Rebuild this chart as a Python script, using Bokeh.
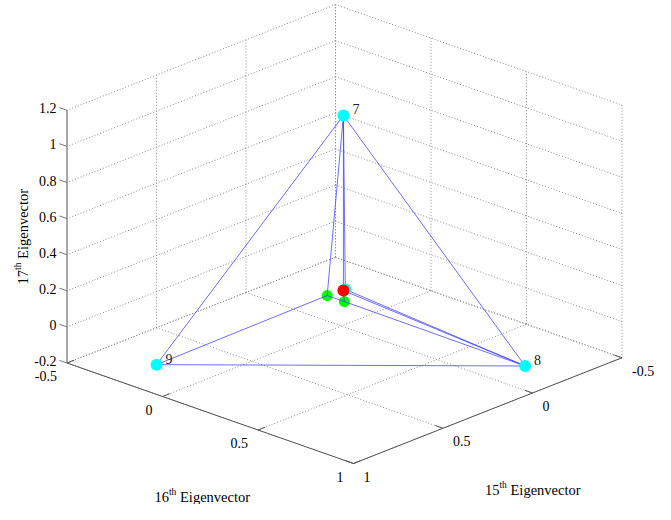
import numpy as np
from bokeh.plotting import figure
from bokeh.models import Range1d
from bokeh.embed import file_html
from bokeh.resources import INLINE
from bokeh.core.properties import value

# ---------------- data ----------------
# node coordinates on the 16th / 15th / 17th eigenvectors
node_names = ["7", "8", "9", "c", "r", "g1", "g2"]
node_labels = ["7", "8", "9", "", "", "", ""]
node_e16 = [0.01, 0.98, -0.05, 0.02, 0.01, 0.00, 0.09]
node_e15 = [0.00, 0.02, 0.98, 0.00, 0.00, 0.08, 0.08]
node_e17 = [0.97, -0.05, -0.05, 0.01, 0.00, 0.00, 0.00]
node_colors = ["#00ffff", "#00ffff", "#00ffff", "#00ffff", "#ff0000", "#00ff00", "#00ff00"]

edge_from = ["7", "7", "8", "7", "7", "7", "9", "g1", "g2", "r", "c", "g2"]
edge_to = ["8", "9", "9", "r", "c", "g1", "g1", "g2", "r", "8", "8", "8"]

e16_ticks = [-0.5, 0, 0.5, 1]
e16_tick_labels = ["-0.5", "0", "0.5", "1"]
e15_ticks = [-0.5, 0, 0.5, 1]
e15_tick_labels = ["-0.5", "0", "0.5", "1"]
e17_ticks = [-0.2, 0, 0.2, 0.4, 0.6, 0.8, 1.0, 1.2]
e17_tick_labels = ["-0.2", "0", "0.2", "0.4", "0.6", "0.8", "1", "1.2"]
e16_lim = [-0.5, 1.0]
e15_lim = [-0.5, 1.0]
e17_lim = [-0.2, 1.2]

# ---------------- view (projection of 3D axes onto the page) ----------------
ORIGIN = (353.0, 463.0)      # where (e16 max, e15 max, e17 min) lands
VA = (191.0, 67.0)           # one unit of e16
VB = (-179.0, 70.5)          # one unit of e15
VC = (0.0, -180.5)           # one unit of e17


def proj(a, b, c):
    a = np.asarray(a, float) - e16_lim[1]
    b = np.asarray(b, float) - e15_lim[1]
    c = np.asarray(c, float) - e17_lim[0]
    x = ORIGIN[0] + a * VA[0] + b * VB[0] + c * VC[0]
    y = ORIGIN[1] + a * VA[1] + b * VB[1] + c * VC[1]
    return x, y


FONT = value("Liberation Serif")

p = figure(width=655, height=504, output_backend="svg", toolbar_location=None,
           x_range=Range1d(0, 655), y_range=Range1d(504, 0),
           x_axis_location=None, y_axis_location=None, min_border=0)
p.grid.visible = False
p.outline_line_color = None
p.background_fill_color = "white"
p.border_fill_color = "white"

A0, A1 = e16_lim
B0, B1 = e15_lim
C0, C1 = e17_lim

# ---------------- grid ----------------
gx, gy = [], []


def seg(p0, p1, xs, ys):
    x0, y0 = proj(*p0)
    x1, y1 = proj(*p1)
    xs.append([float(x0), float(x1)])
    ys.append([float(y0), float(y1)])


for z in e17_ticks:
    seg((A0, B0, z), (A0, B1, z), gx, gy)
    seg((A0, B0, z), (A1, B0, z), gx, gy)
for b in e15_ticks:
    seg((A0, b, C0), (A0, b, C1), gx, gy)
    seg((A0, b, C0), (A1, b, C0), gx, gy)
for a in e16_ticks:
    seg((a, B0, C0), (a, B0, C1), gx, gy)
    seg((a, B0, C0), (a, B1, C0), gx, gy)
p.multi_line(gx, gy, line_color="#8a8a8a", line_width=1, line_dash="1 2")

# ---------------- axes ----------------
zx, zy = [], []
seg((A0, B1, C0), (A0, B1, C1), zx, zy)
p.multi_line(zx, zy, line_color="#a8a8a8", line_width=2)
ax_x, ax_y = [], []
seg((A0, B1, C0), (A1, B1, C0), ax_x, ax_y)
seg((A1, B0, C0), (A1, B1, C0), ax_x, ax_y)
tl = 0.04
for a in e16_ticks:
    seg((a, B1, C0), (a, B1 - tl, C0), ax_x, ax_y)
for b in e15_ticks:
    seg((A1, b, C0), (A1 - tl, b, C0), ax_x, ax_y)
p.multi_line(ax_x, ax_y, line_color="#555555", line_width=1)
tzx, tzy = [], []
for z in e17_ticks:
    seg((A0, B1, z), (A0 - tl, B1, z), tzx, tzy)
p.multi_line(tzx, tzy, line_color="#777777", line_width=1)

# tick labels
tx, ty = proj(e16_ticks, [B1] * len(e16_ticks), [C0] * len(e16_ticks))
p.text(x=tx - 10, y=ty + 13, text=e16_tick_labels, text_font=FONT, text_font_size=value("14px"),
       text_align="right", text_baseline="middle", text_color="black")
tx, ty = proj([A1] * len(e15_ticks), e15_ticks, [C0] * len(e15_ticks))
p.text(x=tx + 10, y=ty + 13, text=e15_tick_labels, text_font=FONT, text_font_size=value("14px"),
       text_align="left", text_baseline="middle", text_color="black")
tx, ty = proj([A0] * len(e17_ticks), [B1] * len(e17_ticks), e17_ticks)
p.text(x=tx - 10.5, y=ty - 2, text=e17_tick_labels, text_font=FONT, text_font_size=value("14px"),
       text_align="right", text_baseline="middle", text_color="black")

# axis titles with superscripts
FS, SFS = 14.5, 9.5


def widths(num):
    return 0.5 * len(num) * FS, 0.778 * SFS, 0.25 * FS, 4.83 * FS


def htitle(cx, cy, num, rest):
    w_num, w_sup, w_sp, w_rest = widths(num)
    x0 = cx - (w_num + w_sup + w_sp + w_rest) / 2
    p.text(x=[x0], y=[cy], text=[num], text_font=FONT, text_font_size=value("14.5px"),
           text_align="left", text_baseline="middle", text_color="black")
    p.text(x=[x0 + w_num], y=[cy - 5], text=["th"], text_font=FONT, text_font_size=value("9.5px"),
           text_align="left", text_baseline="middle", text_color="black")
    p.text(x=[x0 + w_num + w_sup + w_sp], y=[cy], text=[rest], text_font=FONT,
           text_font_size=value("14.5px"), text_align="left", text_baseline="middle", text_color="black")


def vtitle(cx, cy, num, rest):
    w_num, w_sup, w_sp, w_rest = widths(num)
    y0 = cy + (w_num + w_sup + w_sp + w_rest) / 2
    ang = np.pi / 2
    p.text(x=[cx], y=[y0], text=[num], angle=ang, text_font=FONT, text_font_size=value("14.5px"),
           text_align="left", text_baseline="middle", text_color="black")
    p.text(x=[cx - 5], y=[y0 - w_num], text=["th"], angle=ang, text_font=FONT,
           text_font_size=value("9.5px"), text_align="left", text_baseline="middle", text_color="black")
    p.text(x=[cx], y=[y0 - w_num - w_sup - w_sp], text=[rest], angle=ang, text_font=FONT,
           text_font_size=value("14.5px"), text_align="left", text_baseline="middle", text_color="black")


mx, my = proj(np.mean(e16_lim), B1, C0)
htitle(float(mx) - 8, float(my) + 84, "16", "Eigenvector")
mx, my = proj(A1, np.mean(e15_lim), C0)
htitle(float(mx) + 45, float(my) + 79, "15", "Eigenvector")
mx, my = proj(A0, B1, np.mean(e17_lim))
vtitle(float(mx) - 44, float(my), "17", "Eigenvector")

# ---------------- graph ----------------
idx = {n: i for i, n in enumerate(node_names)}
nx, ny = proj(node_e16, node_e15, node_e17)
ex = [[float(nx[idx[a]]), float(nx[idx[b]])] for a, b in zip(edge_from, edge_to)]
ey = [[float(ny[idx[a]]), float(ny[idx[b]])] for a, b in zip(edge_from, edge_to)]

green = [i for i, c in enumerate(node_colors) if c == "#00ff00"]
other = [i for i, c in enumerate(node_colors) if c != "#00ff00"]
p.scatter(x=nx[green], y=ny[green], size=11, marker="circle",
          fill_color=[node_colors[i] for i in green], line_color=None)
p.multi_line(ex, ey, line_color="#3c3cff", line_width=1, line_alpha=0.75)
p.scatter(x=nx[other], y=ny[other], size=12, marker="circle",
          fill_color=[node_colors[i] for i in other], line_color=None)

lab = [i for i, t in enumerate(node_labels) if t]
p.text(x=nx[lab] + 9, y=ny[lab] - 6, text=[node_labels[i] for i in lab], text_font=FONT,
       text_font_size=value("14px"), text_align="left", text_baseline="middle", text_color="#222222")

open("out.html", "w").write(file_html(p, INLINE))
